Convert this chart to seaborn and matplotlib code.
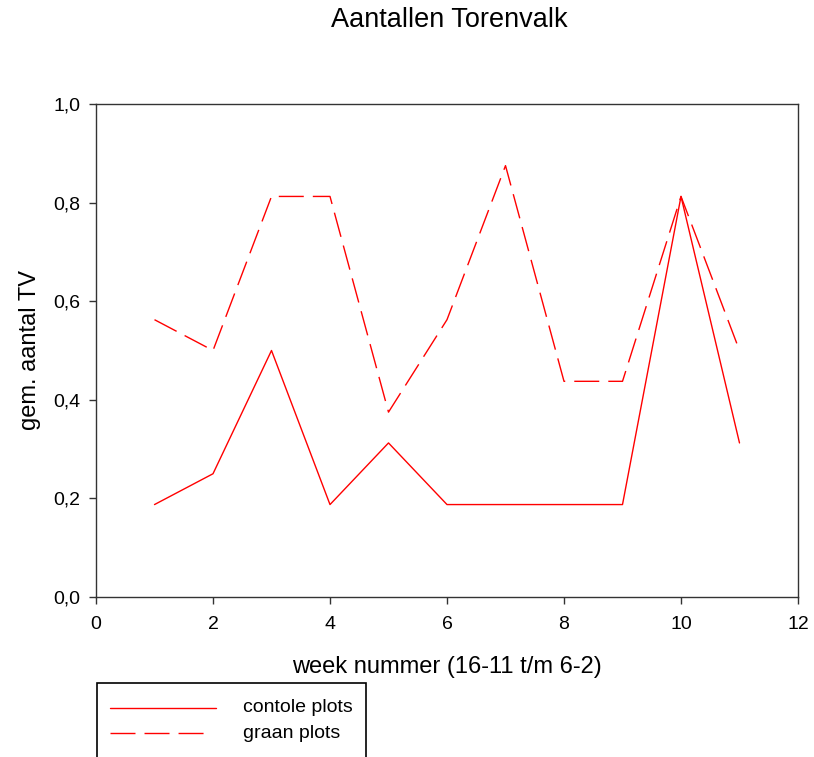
import matplotlib
matplotlib.use("Agg")
import matplotlib.pyplot as plt
import seaborn as sns
import pandas as pd
from matplotlib.lines import Line2D
from matplotlib.patches import Rectangle

weeks = [1, 2, 3, 4, 5, 6, 7, 8, 9, 10, 11]
controle = [0.1875, 0.25, 0.5, 0.1875, 0.3125, 0.1875, 0.1875, 0.1875, 0.1875, 0.8125, 0.3125]
graan = [0.5625, 0.5, 0.8125, 0.8125, 0.375, 0.5625, 0.875, 0.4375, 0.4375, 0.8125, 0.5]
series_names = ["contole plots", "graan plots"]
y_ticks = [0, 0.2, 0.4, 0.6, 0.8, 1.0]

df = pd.DataFrame({
    "week": weeks * 2,
    "aantal": controle + graan,
    "reeks": [series_names[0]] * len(weeks) + [series_names[1]] * len(weeks),
})

sns.set_style("ticks")
plt.rcParams["font.family"] = ["Liberation Sans", "DejaVu Sans"]
plt.rcParams["text.color"] = "black"
plt.rcParams["axes.labelcolor"] = "black"

W, H = 814, 757
fig = plt.figure(figsize=(W / 100, H / 100), dpi=100)
ax = fig.add_axes([96 / W, 1 - 597 / H, (798 - 96) / W, (597 - 104) / H])

dash = (18, 6.5)
sns.lineplot(data=df, x="week", y="aantal", style="reeks",
             color="#ff0000", linewidth=1.0,
             dashes={series_names[0]: "", series_names[1]: dash},
             ax=ax, legend=False)

ax.set_xlim(0, 12)
ax.set_ylim(0, 1.0)
ax.set_xticks(range(0, 13, 2))
ax.set_yticks(y_ticks)
ax.set_yticklabels([f"{v:.1f}".replace(".", ",") for v in y_ticks])
ax.tick_params(direction="out", length=5, width=1, color="#333333",
               labelsize=14, labelcolor="black")
ax.tick_params(axis="x", pad=8.5)
ax.tick_params(axis="y", pad=6)
for sp in ax.spines.values():
    sp.set_visible(True)
    sp.set_color("#333333")
    sp.set_linewidth(1)

ax.set_xlabel("week nummer (16-11 t/m 6-2)", fontsize=17, labelpad=17)
ax.set_ylabel("gem. aantal TV", fontsize=17, labelpad=9)
fig.text(449 / W, 1 - 20 / H, "Aantallen Torenvalk", ha="center", va="center", fontsize=19.5)

# legend box below the axes, running past the bottom edge
fig.patches.append(Rectangle((97 / W, -0.05), (366 - 97) / W, (1 - 683 / H) + 0.05,
                             transform=fig.transFigure, fill=False,
                             edgecolor="black", linewidth=1.2))
legend_rows = [(708, Line2D([110 / W, 216 / W], [1 - 708 / H] * 2, color="#ff0000", lw=1.0,
                            transform=fig.transFigure)),
               (733, Line2D([110 / W, 210 / W], [1 - 733 / H] * 2, color="#ff0000", lw=1.0,
                            dashes=dash, transform=fig.transFigure))]
for (ypix, line), name in zip(legend_rows, series_names):
    fig.lines.append(line)
    fig.text(243 / W, 1 - ypix / H, name, ha="left", va="center", fontsize=14)

fig.savefig("out.png", dpi=100)
